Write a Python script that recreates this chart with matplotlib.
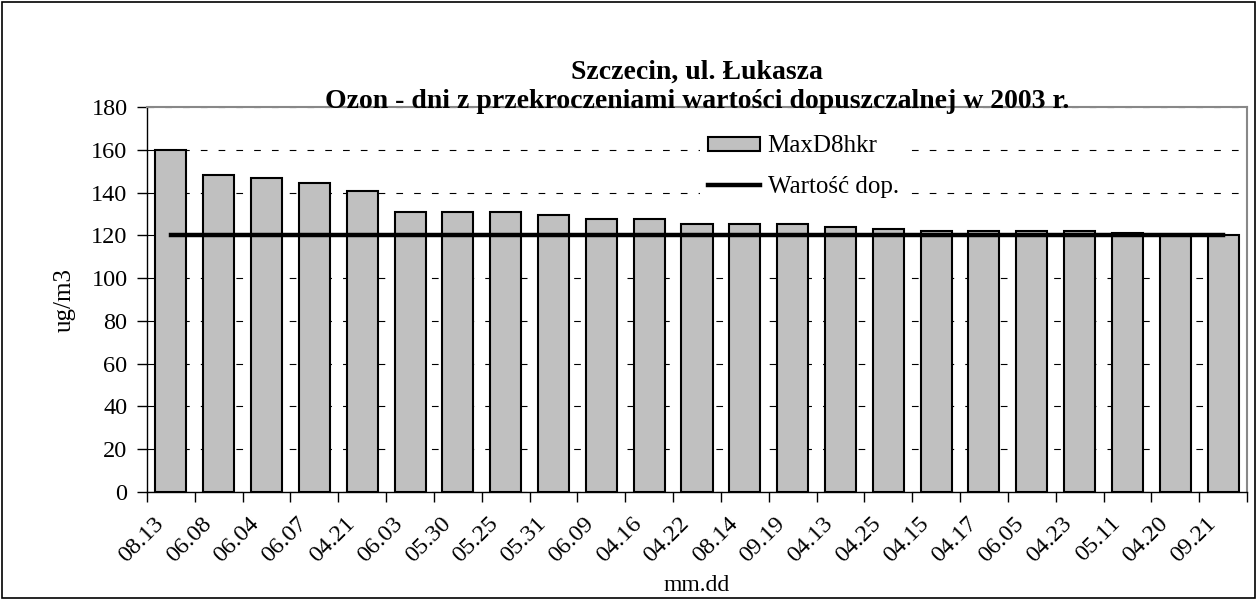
import matplotlib.pyplot as plt
from matplotlib.patches import Rectangle
from matplotlib.transforms import ScaledTranslation

plt.rcParams['font.family'] = ['Liberation Serif', 'DejaVu Serif']

days = ["08.13", "06.08", "06.04", "06.07", "04.21", "06.03", "05.30", "05.25",
        "05.31", "06.09", "04.16", "04.22", "08.14", "09.19", "04.13", "04.25",
        "04.15", "04.17", "06.05", "04.23", "05.11", "04.20", "09.21"]
maxd8 = [160, 148, 147, 144.5, 140.5, 131, 131, 131, 129.5, 127.5, 127.5, 125.5,
         125.5, 125.5, 124, 123, 122, 122, 122, 122, 121, 120, 120]
limit = [120] * len(days)

W, H = 1257, 600
fig = plt.figure(figsize=(W / 100, H / 100), dpi=100)
ax = fig.add_axes([147 / W, 1 - 492 / H, (1247 - 147) / W, (492 - 107) / H])

x = list(range(len(days)))
bars = ax.bar(x, maxd8, width=0.65, color='#c0c0c0', edgecolor='black', linewidth=1.5,
              label='MaxD8hkr', zorder=2)
line, = ax.plot(x, limit, color='black', linewidth=3.2, label='Wartość dop.', zorder=3)

ax.set_xlim(-0.5, len(days) - 0.5)
ax.set_ylim(0, 180)
ax.set_yticks(range(0, 181, 20))
ax.yaxis.grid(True, linestyle=(0, (6, 10)), color='black', linewidth=0.8, zorder=0)
ax.set_axisbelow(True)

# ticks between categories, labels at the bar centres
ax.set_xticks([i - 0.5 for i in range(len(days) + 1)])
ax.set_xticklabels([])
ax.set_xticks(x, minor=True)
ax.set_xticklabels(days, minor=True, rotation=45, ha='right', va='top',
                   rotation_mode='anchor', fontsize=17.5)
ax.tick_params(axis='x', which='minor', length=0, pad=15)
ax.tick_params(axis='x', which='major', length=7, direction='out', width=1)
ax.tick_params(axis='y', length=7, direction='out', labelsize=17.5, width=1, pad=7)
shift = ScaledTranslation(-18 / 100, 0, fig.dpi_scale_trans)
for lab in ax.get_xticklabels(minor=True):
    lab.set_transform(lab.get_transform() + shift)

ax.spines['right'].set_color('#888888')
ax.spines['top'].set_color('#888888')
ax.spines['right'].set_linewidth(1.5)
ax.spines['top'].set_linewidth(1.5)
ax.spines['left'].set_linewidth(1)
ax.spines['bottom'].set_linewidth(1)

ax.set_ylabel('ug/m3', fontsize=18, labelpad=11)
ax.set_xlabel('mm.dd', fontsize=17, labelpad=6)

fig.text(697 / W, 1 - 72 / H, 'Szczecin, ul. Łukasza', ha='center', va='center',
         fontsize=20, fontweight='bold')
fig.text(697 / W, 1 - 101 / H, 'Ozon - dni z przekroczeniami wartości dopuszczalnej w 2003 r.',
         ha='center', va='center', fontsize=20, fontweight='bold')

leg = ax.legend([bars, line], ['MaxD8hkr', 'Wartość dop.'], loc='upper left',
                bbox_to_anchor=((700 - 147) / 1100, (492 - 128) / 385),
                frameon=True, fontsize=18, handlelength=2.1, handleheight=0.5,
                handletextpad=0.3, labelspacing=0.75, borderpad=0.3, borderaxespad=0)
leg.get_frame().set_edgecolor('none')
leg.get_frame().set_facecolor('white')
leg.get_frame().set_alpha(1)

fig.patches.append(Rectangle((2 / W, 2 / H), 1 - 4 / W, 1 - 4 / H, transform=fig.transFigure,
                             fill=False, edgecolor='black', linewidth=1.2))

fig.savefig('out.png', dpi=100)
